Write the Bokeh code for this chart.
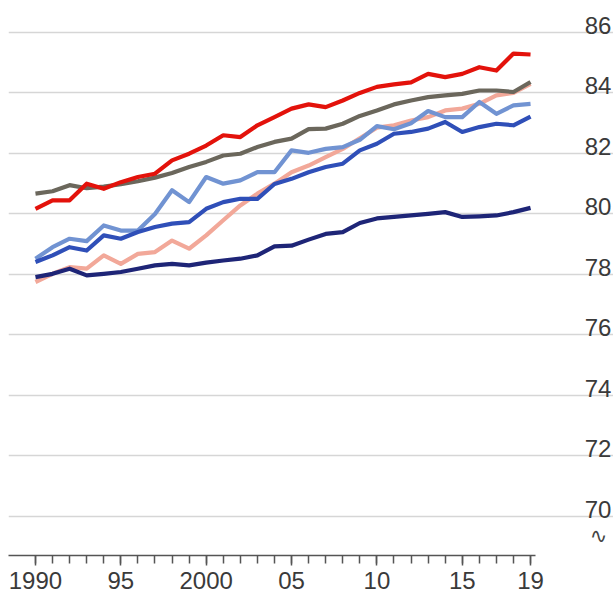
from bokeh.plotting import figure
from bokeh.models import FixedTicker, LinearAxis, Grid, ColumnDataSource
from bokeh.core.properties import value
from bokeh.embed import file_html
from bokeh.resources import INLINE

years = list(range(1990, 2020))

red = [80.17, 80.45, 80.45, 81.0, 80.83, 81.05, 81.22, 81.33, 81.77, 81.99,
       82.26, 82.6, 82.54, 82.93, 83.2, 83.48, 83.62, 83.53, 83.75, 84.0,
       84.2, 84.28, 84.35, 84.63, 84.52, 84.63, 84.85, 84.74, 85.3, 85.27]
gray = [80.67, 80.75, 80.95, 80.85, 80.9, 80.98, 81.08, 81.2, 81.35, 81.55,
        81.72, 81.93, 81.99, 82.21, 82.38, 82.49, 82.8, 82.82, 82.98, 83.24,
        83.42, 83.62, 83.75, 83.86, 83.92, 83.97, 84.08, 84.08, 84.03, 84.36]
light_blue = [78.52, 78.9, 79.18, 79.1, 79.62, 79.45, 79.45, 80.0, 80.78, 80.39,
              81.22, 81.0, 81.11, 81.38, 81.38, 82.1, 82.02, 82.15, 82.21, 82.45,
              82.9, 82.8, 83.0, 83.4, 83.2, 83.2, 83.7, 83.31, 83.59, 83.64]
mid_blue = [78.41, 78.63, 78.9, 78.79, 79.29, 79.18, 79.4, 79.57, 79.68, 79.73,
            80.17, 80.39, 80.5, 80.5, 80.99, 81.16, 81.38, 81.55, 81.66, 82.1,
            82.32, 82.65, 82.71, 82.82, 83.04, 82.71, 82.87, 82.98, 82.93, 83.22]
salmon = [77.75, 78.02, 78.24, 78.19, 78.63, 78.35, 78.68, 78.74, 79.12, 78.85,
          79.29, 79.79, 80.28, 80.67, 81.0, 81.38, 81.6, 81.88, 82.15, 82.5,
          82.85, 82.93, 83.09, 83.2, 83.42, 83.48, 83.64, 83.92, 84.0, 84.3]
navy = [77.91, 78.02, 78.19, 77.97, 78.02, 78.08, 78.19, 78.3, 78.35, 78.3,
        78.39, 78.46, 78.52, 78.63, 78.93, 78.95, 79.15, 79.34, 79.4, 79.7,
        79.85, 79.9, 79.95, 80.0, 80.06, 79.9, 79.92, 79.95, 80.06, 80.2]

y_ticks = [70, 72, 74, 76, 78, 80, 82, 84, 86]
y_tick_labels = ["70", "72", "74", "76", "78", "80", "82", "84", "86"]
x_ticks = [1990, 1995, 2000, 2005, 2010, 2015, 2019]
x_tick_labels = ["1990", "95", "2000", "05", "10", "15", "19"]

series = [
    (salmon, "#f2a899"),
    (light_blue, "#7193d2"),
    (mid_blue, "#2f4fb8"),
    (navy, "#1e2577"),
    (gray, "#6b675c"),
    (red, "#e3120b"),
]

X0, X1 = 1988.42, 2023.86
Y0, Y1 = 68.71, 86.79

p = figure(width=613, height=599, x_range=(X0, X1), y_range=(Y0, Y1),
           output_backend="svg", toolbar_location=None,
           x_axis_location=None, y_axis_location=None,
           min_border_left=8, min_border_right=0, min_border_top=8,
           min_border_bottom=44, background_fill_color="white",
           border_fill_color="white")
p.outline_line_color = None
p.grid.visible = False

grid = Grid(dimension=1, ticker=FixedTicker(ticks=y_ticks),
            grid_line_color="#d6d6d6", grid_line_width=1.6)
p.add_layout(grid)

for vals, col in series:
    p.line(years, vals, line_color=col, line_width=4.2, line_join="round")

# y labels (right side, above gridlines)
lab_src = ColumnDataSource(dict(x=[X1 - 0.12] * len(y_ticks), y=y_ticks, t=y_tick_labels))
p.text(x="x", y="y", text="t", source=lab_src, text_align="right",
       text_baseline="alphabetic", y_offset=-7, text_font=value("Liberation Sans"),
       text_font_size="24px", text_color="#3a3a3a")

# axis break symbol
p.text(x=[X1 - 0.88], y=[Y0 + 0.66], text=["∿"], text_align="center",
       text_baseline="middle", text_font=value("DejaVu Sans"),
       text_font_size="21px", text_color="#444444")

xaxis = LinearAxis(ticker=FixedTicker(ticks=x_ticks, minor_ticks=years),
                   bounds=(X0, 2019.3))
xaxis.major_label_overrides = {t: l for t, l in zip(x_ticks, x_tick_labels)}
xaxis.axis_line_color = "#555555"
xaxis.axis_line_width = 1.5
xaxis.major_tick_line_color = "#555555"
xaxis.major_tick_line_width = 1.5
xaxis.minor_tick_line_color = "#555555"
xaxis.minor_tick_line_width = 1.5
xaxis.major_tick_in = 0
xaxis.major_tick_out = 10
xaxis.minor_tick_in = 0
xaxis.minor_tick_out = 8
xaxis.major_label_standoff = 6
xaxis.major_label_text_font = "Liberation Sans"
xaxis.major_label_text_font_size = "24px"
xaxis.major_label_text_color = "#3a3a3a"
p.add_layout(xaxis, "below")

open("out.html", "w").write(file_html(p, INLINE))
